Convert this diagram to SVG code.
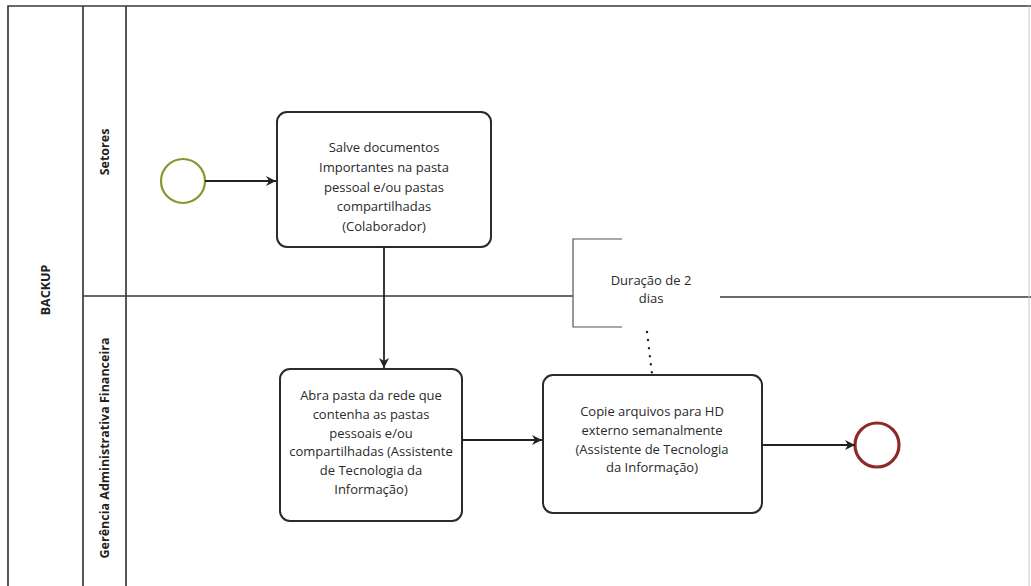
<svg xmlns="http://www.w3.org/2000/svg" width="1031" height="586" viewBox="0 0 1031 586">
  <style>
    .pool { fill: none; stroke: #3a3a3a; stroke-width: 1.7; }
    .lane-label { font-family: "Open Sans", "Noto Sans", sans-serif; font-size: 12.5px; font-weight: bold; fill: #222; text-anchor: middle; }
    .task rect { fill: #ffffff; stroke: #2b2b2b; stroke-width: 2; }
    .task text, .note text { font-family: "Open Sans", "Noto Sans", sans-serif; font-size: 13px; fill: #2a2a2a; text-anchor: middle; }
    .flow { fill: none; stroke: #222; stroke-width: 1.8; }
    .assoc { fill: none; stroke: #222; stroke-width: 2.4; stroke-dasharray: 0.1 8; stroke-linecap: round; }
  </style>
  <defs>
    <marker id="arrow" viewBox="0 0 12 12" refX="11" refY="6" markerWidth="12" markerHeight="12" markerUnits="userSpaceOnUse" orient="auto">
      <path d="M1,1 L11,6 L1,11 L4,6 Z" fill="#222"/>
    </marker>
  </defs>

  <rect width="1031" height="586" fill="#ffffff"/>

  <!-- pool and lanes -->
  <g id="pool">
    <path class="pool" d="M8,590 L8,6 L1031,6"/>
    <line class="pool" x1="83" y1="6" x2="83" y2="590"/>
    <line class="pool" x1="126" y1="6" x2="126" y2="590"/>
    <line class="pool" x1="83" y1="296" x2="573" y2="296"/>
    <line class="pool" x1="720" y1="297" x2="1031" y2="297"/>
    <line x1="1029" y1="6" x2="1029" y2="586" stroke="#c8c8c8" stroke-width="1"/>
    <text class="lane-label" transform="translate(50,290) rotate(-90)">BACKUP</text>
    <text class="lane-label" transform="translate(109,152) rotate(-90)">Setores</text>
    <text class="lane-label" transform="translate(109,448) rotate(-90)">Gerência Administrativa Financeira</text>
  </g>

  <!-- start event -->
  <g id="start">
    <circle cx="183" cy="181" r="22" fill="#fff" stroke="#7f9a2a" stroke-width="2.2"/>
  </g>

  <!-- task: save documents -->
  <g id="task-salve" class="task">
    <rect x="277" y="112" width="214" height="135" rx="10"/>
    <text x="384" y="152">Salve documentos</text>
    <text x="384" y="172">Importantes na pasta</text>
    <text x="384" y="192">pessoal e/ou pastas</text>
    <text x="384" y="211">compartilhadas</text>
    <text x="384" y="231">(Colaborador)</text>
  </g>

  <!-- task: open network folder -->
  <g id="task-abra" class="task">
    <rect x="280" y="369" width="182" height="152" rx="10"/>
    <text x="371" y="400">Abra pasta da rede que</text>
    <text x="371" y="419">contenha as pastas</text>
    <text x="371" y="438">pessoais e/ou</text>
    <text x="371" y="456">compartilhadas (Assistente</text>
    <text x="371" y="475">de Tecnologia da</text>
    <text x="371" y="494">Informação)</text>
  </g>

  <!-- task: copy to external drive -->
  <g id="task-copie" class="task">
    <rect x="543" y="375" width="219" height="138" rx="10"/>
    <text x="652" y="416">Copie arquivos para HD</text>
    <text x="652" y="435">externo semanalmente</text>
    <text x="652" y="454">(Assistente de Tecnologia</text>
    <text x="652" y="472">da Informação)</text>
  </g>

  <!-- end event -->
  <g id="end">
    <circle cx="877" cy="445" r="22" fill="#fff" stroke="#8e2a26" stroke-width="3.2"/>
  </g>

  <!-- text annotation -->
  <g id="note" class="note">
    <path d="M622,239 L573,239 L573,327 L622,327" fill="none" stroke="#555" stroke-width="1.2"/>
    <text x="651" y="285">Duração de 2</text>
    <text x="651" y="303">dias</text>
  </g>

  <!-- connectors -->
  <g id="connectors">
    <line class="flow" x1="205" y1="181" x2="276" y2="181" marker-end="url(#arrow)"/>
    <line class="flow" x1="384" y1="247" x2="384" y2="368" marker-end="url(#arrow)"/>
    <line class="flow" x1="462" y1="440" x2="542" y2="440" marker-end="url(#arrow)"/>
    <line class="flow" x1="762" y1="445" x2="855" y2="445" marker-end="url(#arrow)"/>
    <line class="assoc" x1="647" y1="332" x2="652" y2="374"/>
  </g>
</svg>
